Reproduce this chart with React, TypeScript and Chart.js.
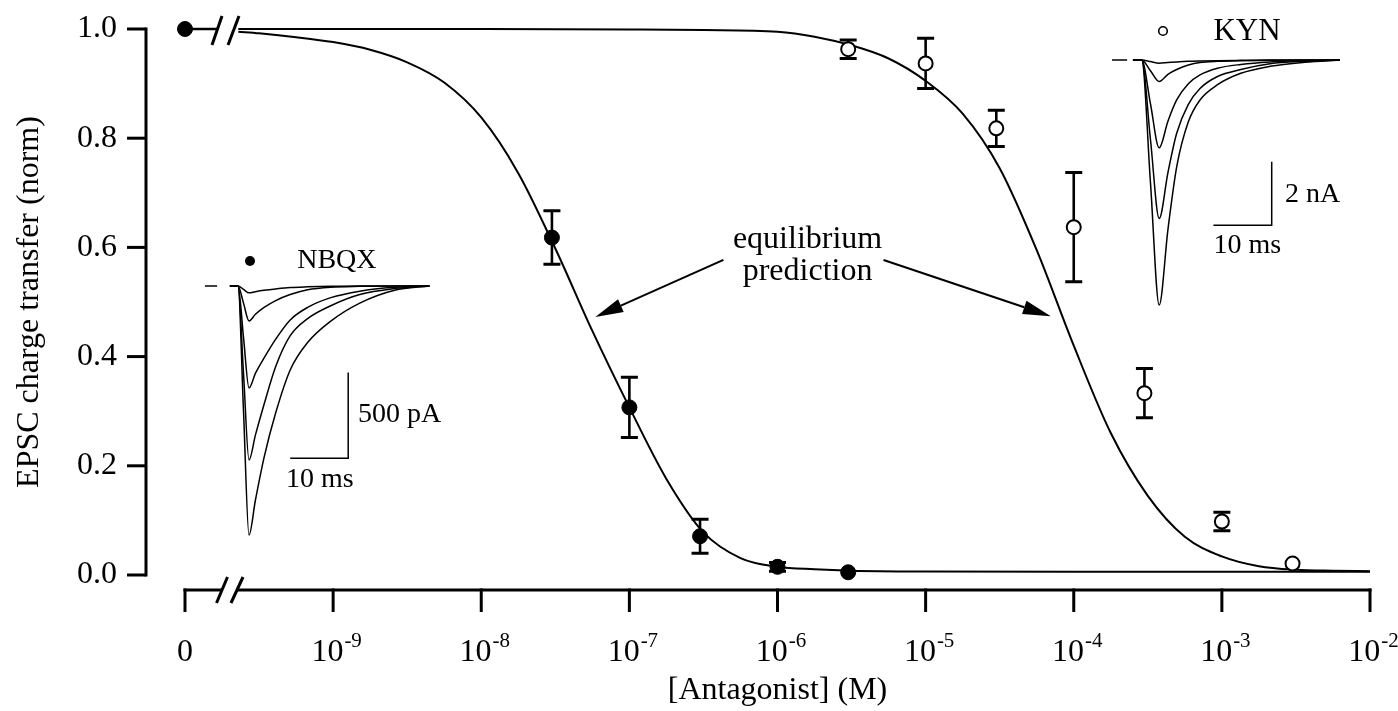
import React, { useEffect, useRef } from "react";
import { Chart, registerables } from "chart.js";

Chart.register(...registerables);

const SERIF = '"Liberation Serif", "Times New Roman", Times, serif';

// ---------- dose-response data (concentration in M, normalised charge transfer) ----------
const controlConc = [1e-10]; // drawn at the "0" position of the broken axis
const controlValue = [1.0];

const nbqxConc = [3e-8, 1e-7, 3e-7, 1e-6, 3e-6];
const nbqxValue = [0.618, 0.307, 0.071, 0.015, 0.005];
const nbqxSem = [0.049, 0.055, 0.031, 0.008, 0];

const kynConc = [3e-6, 1e-5, 3e-5, 1e-4, 3e-4, 1e-3, 3e-3];
const kynValue = [0.963, 0.937, 0.818, 0.637, 0.333, 0.098, 0.021];
const kynSem = [0.017, 0.046, 0.033, 0.1, 0.045, 0.017, 0];

// ---------- equilibrium prediction curves (log10 concentration, value) ----------
const nbqxFitExp = [-9.64, -9.5, -9.25, -9.0, -8.75, -8.5, -8.25, -8.0, -7.75, -7.5, -7.25, -7.0, -6.75, -6.5, -6.25, -6.0, -5.75, -5.5, -5.0, -4.0, -2.0];
const nbqxFitValue = [0.995, 0.992, 0.985, 0.976, 0.962, 0.939, 0.902, 0.838, 0.736, 0.598, 0.447, 0.307, 0.176, 0.078, 0.031, 0.015, 0.0105, 0.008, 0.0065, 0.006, 0.006];
const kynFitExp = [-9.64, -8.0, -7.0, -6.5, -6.0, -5.75, -5.5, -5.25, -5.0, -4.75, -4.5, -4.25, -4.0, -3.75, -3.5, -3.25, -3.0, -2.75, -2.5, -2.25, -2.0];
const kynFitValue = [1.0, 1.0, 0.999, 0.998, 0.995, 0.986, 0.97, 0.946, 0.905, 0.845, 0.745, 0.595, 0.42, 0.26, 0.145, 0.07, 0.034, 0.016, 0.0095, 0.0078, 0.007];

// ---------- axis ticks ----------
const xTickExp = [-10, -9, -8, -7, -6, -5, -4, -3, -2];
const xTickBase = ["0", "10", "10", "10", "10", "10", "10", "10", "10"];
const xTickSup = ["", "-9", "-8", "-7", "-6", "-5", "-4", "-3", "-2"];
const yTicks = [0, 0.2, 0.4, 0.6, 0.8, 1.0];
const yTickLabels = ["0.0", "0.2", "0.4", "0.6", "0.8", "1.0"];

// ---------- inset: NBQX example EPSCs (time ms, current pA) ----------
const nbqxTime = [-1.4, 0, 0.95, 1.9, 3, 4.5, 6.5, 9, 12, 16, 21, 27, 33];
const nbqxTrace1 = [0, 0, -20, -40, -33, -25, -17, -9, -5, -2, 0, 0, 0];
const nbqxTrace2 = [0, 0, -100, -204, -165, -125, -85, -50, -22, -7, -2, 0, 0];
const nbqxTrace3 = [0, 0, -300, -595, -510, -420, -310, -198, -125, -68, -30, -8, 0];
const nbqxTrace4 = [0, 0, -510, -1015, -870, -690, -470, -290, -190, -115, -50, -15, 0];
const nbqxTrace5 = [0, 0, -730, -1453, -1250, -1000, -740, -490, -330, -205, -100, -25, 0];
const nbqxDashTime = [-5.7, -3.6];
const nbqxBarTime = [9, 19, 19];
const nbqxBarCurrent = [-1005, -1005, -505];

// ---------- inset: KYN example EPSCs (time ms, current nA) ----------
const kynTime = [-1.5, 0, 1.5, 3, 4.5, 6, 8, 10, 13, 17, 22, 28, 34];
const kynTrace0 = [0, 0, -0.05, -0.1, -0.08, -0.06, -0.04, -0.03, -0.02, -0.01, 0, 0, 0];
const kynTrace1 = [0, 0, -0.34, -0.68, -0.45, -0.3, -0.16, -0.08, -0.04, -0.02, -0.01, 0, 0];
const kynTrace2 = [0, 0, -1.38, -2.77, -1.93, -1.26, -0.75, -0.47, -0.26, -0.14, -0.06, -0.02, 0];
const kynTrace3 = [0, 0, -2.5, -5.0, -3.55, -2.31, -1.4, -0.9, -0.52, -0.3, -0.12, -0.04, 0];
const kynTrace4 = [0, 0, -3.86, -7.73, -5.35, -3.37, -1.95, -1.26, -0.78, -0.42, -0.2, -0.07, 0];
const kynDashTime = [-5.1, -2.5];
const kynBarTime = [12.3, 22.3, 22.3];
const kynBarCurrent = [-5.21, -5.21, -3.21];

// ---------- layout (pixels) ----------
const W = 1398;
const H = 711;
const AREA = { left: 185, right: 1370, top: 29, bottom: 575 };
const NBQX_INSET = { ox: 238, oy: 286, pxPerMs: 5.8, pxPerUnit: 0.1714 };
const KYN_INSET = { ox: 1141.7, oy: 60, pxPerMs: 5.83, pxPerUnit: 31.7 };

function insetX(o: { ox: number; pxPerMs: number }) {
  return { min: -(o.ox - AREA.left) / o.pxPerMs, max: (AREA.right - o.ox) / o.pxPerMs };
}
function insetY(o: { oy: number; pxPerUnit: number }) {
  return { min: -(AREA.bottom - o.oy) / o.pxPerUnit, max: (o.oy - AREA.top) / o.pxPerUnit };
}

const pts = (xs: number[], ys: number[]) => xs.map((x, i) => ({ x, y: ys[i] }));
const expPts = (es: number[], ys: number[]) => es.map((e, i) => ({ x: Math.pow(10, e), y: ys[i] }));

function drawText(ctx: CanvasRenderingContext2D, text: string, x: number, y: number, size: number, align: CanvasTextAlign = "left", baseline: CanvasTextBaseline = "alphabetic") {
  ctx.font = `${size}px ${SERIF}`;
  ctx.textAlign = align;
  ctx.textBaseline = baseline;
  ctx.fillText(text, x, y);
}

function drawArrow(ctx: CanvasRenderingContext2D, x1: number, y1: number, x2: number, y2: number) {
  const ang = Math.atan2(y2 - y1, x2 - x1);
  const len = 28;
  const half = 7;
  const bx = x2 - len * Math.cos(ang);
  const by = y2 - len * Math.sin(ang);
  ctx.beginPath();
  ctx.moveTo(x1, y1);
  ctx.lineTo(bx, by);
  ctx.lineWidth = 2;
  ctx.stroke();
  ctx.beginPath();
  ctx.moveTo(x2, y2);
  ctx.lineTo(bx + half * Math.sin(ang), by - half * Math.cos(ang));
  ctx.lineTo(bx - half * Math.sin(ang), by + half * Math.cos(ang));
  ctx.closePath();
  ctx.fill();
}

function slash(ctx: CanvasRenderingContext2D, cx: number, cy: number, dx: number, dy: number) {
  ctx.beginPath();
  ctx.moveTo(cx - dx, cy + dy);
  ctx.lineTo(cx + dx, cy - dy);
  ctx.stroke();
}

const figurePlugin = {
  id: "figureDecor",
  beforeDatasetsDraw(chart: any) {
    const ctx: CanvasRenderingContext2D = chart.ctx;
    const xs = chart.scales.x;
    const ys = chart.scales.y;
    ctx.save();
    ctx.strokeStyle = "#000";
    ctx.lineCap = "butt";
    const bars = (conc: number[], val: number[], sem: number[]) => {
      conc.forEach((c, i) => {
        if (!sem[i]) return;
        const px = xs.getPixelForValue(c);
        const t = ys.getPixelForValue(val[i] + sem[i]);
        const b = ys.getPixelForValue(val[i] - sem[i]);
        ctx.lineWidth = 2.6;
        ctx.beginPath();
        ctx.moveTo(px, t);
        ctx.lineTo(px, b);
        ctx.stroke();
        ctx.lineWidth = 3;
        ctx.beginPath();
        ctx.moveTo(px - 8.5, t);
        ctx.lineTo(px + 8.5, t);
        ctx.moveTo(px - 8.5, b);
        ctx.lineTo(px + 8.5, b);
        ctx.stroke();
      });
    };
    bars(nbqxConc, nbqxValue, nbqxSem);
    bars(kynConc, kynValue, kynSem);

    // short segment from the control point to the axis break
    const x0 = xs.getPixelForValue(controlConc[0]);
    const y1 = ys.getPixelForValue(controlValue[0]);
    ctx.lineWidth = 2.5;
    ctx.beginPath();
    ctx.moveTo(x0, y1);
    ctx.lineTo(x0 + 32, y1);
    ctx.stroke();
    ctx.lineWidth = 3;
    slash(ctx, x0 + 32, y1 + 1.5, 5, 14.5);
    slash(ctx, x0 + 48.5, y1 + 1.5, 5.5, 14.5);
    ctx.restore();
  },
  afterDraw(chart: any) {
    const ctx: CanvasRenderingContext2D = chart.ctx;
    const xs = chart.scales.x;
    const ys = chart.scales.y;
    ctx.save();
    ctx.strokeStyle = "#000";
    ctx.fillStyle = "#000";
    ctx.lineCap = "butt";

    // ----- y axis (offset to the left) -----
    const yAxisX = xs.left - 39;
    const yTop = ys.getPixelForValue(1);
    const yBot = ys.getPixelForValue(0);
    ctx.lineWidth = 3;
    ctx.beginPath();
    ctx.moveTo(yAxisX, yTop - 1.5);
    ctx.lineTo(yAxisX, yBot + 1.5);
    ctx.stroke();
    yTicks.forEach((v, i) => {
      const py = ys.getPixelForValue(v);
      ctx.beginPath();
      ctx.moveTo(yAxisX - 19, py);
      ctx.lineTo(yAxisX, py);
      ctx.stroke();
      drawText(ctx, yTickLabels[i], yAxisX - 29, py, 32, "right", "middle");
    });

    // ----- x axis (offset below, with break) -----
    const xAxisY = ys.bottom + 15;
    const x0 = xs.getPixelForValue(Math.pow(10, xTickExp[0]));
    ctx.lineWidth = 3;
    ctx.beginPath();
    ctx.moveTo(x0 - 1.5, xAxisY);
    ctx.lineTo(x0 + 37, xAxisY);
    ctx.moveTo(x0 + 52, xAxisY);
    ctx.lineTo(xs.right + 1.5, xAxisY);
    ctx.stroke();
    slash(ctx, x0 + 37, xAxisY, 5.5, 13);
    slash(ctx, x0 + 52, xAxisY, 6, 13);
    xTickExp.forEach((e, i) => {
      const px = xs.getPixelForValue(Math.pow(10, e));
      ctx.beginPath();
      ctx.moveTo(px, xAxisY - 1.5);
      ctx.lineTo(px, xAxisY + 22);
      ctx.stroke();
      const baseY = 661;
      if (!xTickSup[i]) {
        drawText(ctx, xTickBase[i], px, baseY, 32, "center");
      } else {
        ctx.font = `32px ${SERIF}`;
        const wb = ctx.measureText(xTickBase[i]).width;
        ctx.font = `21px ${SERIF}`;
        const ws = ctx.measureText(xTickSup[i]).width;
        const start = px - (wb + ws) / 2 + 3;
        drawText(ctx, xTickBase[i], start, baseY, 32, "left");
        drawText(ctx, xTickSup[i], start + wb + 1, baseY - 14, 21, "left");
      }
    });

    // ----- axis titles -----
    drawText(ctx, "[Antagonist] (M)", xs.getPixelForValue(1e-6), 699, 32, "center");
    ctx.save();
    ctx.translate(30, 302);
    ctx.rotate(-Math.PI / 2);
    drawText(ctx, "EPSC charge transfer (norm)", 0, 0, 32, "center", "middle");
    ctx.restore();

    // ----- "equilibrium prediction" annotation -----
    const tx = xs.getPixelForValue(Math.pow(10, -5.797));
    drawText(ctx, "equilibrium", tx, ys.getPixelForValue(0.599), 32, "center");
    drawText(ctx, "prediction", tx, ys.getPixelForValue(0.54), 32, "center");
    drawArrow(ctx, xs.getPixelForValue(Math.pow(10, -6.365)), ys.getPixelForValue(0.577), xs.getPixelForValue(Math.pow(10, -7.23)), ys.getPixelForValue(0.4725));
    drawArrow(ctx, xs.getPixelForValue(Math.pow(10, -5.284)), ys.getPixelForValue(0.577), xs.getPixelForValue(Math.pow(10, -4.155)), ys.getPixelForValue(0.474));

    // ----- NBQX inset labels -----
    const xn = chart.scales.xn;
    const yn = chart.scales.yn;
    ctx.beginPath();
    ctx.arc(xn.getPixelForValue(2.07), yn.getPixelForValue(146), 5, 0, Math.PI * 2);
    ctx.fill();
    drawText(ctx, "NBQX", xn.getPixelForValue(10.2), yn.getPixelForValue(105), 28);
    drawText(ctx, "500 pA", xn.getPixelForValue(20.7), yn.getPixelForValue(-793), 28);
    drawText(ctx, "10 ms", xn.getPixelForValue(14.1), yn.getPixelForValue(-1173), 28, "center");

    // ----- KYN inset labels -----
    const xk = chart.scales.xk;
    const yk = chart.scales.yk;
    ctx.lineWidth = 1.6;
    ctx.beginPath();
    ctx.arc(xk.getPixelForValue(3.65), yk.getPixelForValue(0.915), 4.3, 0, Math.PI * 2);
    ctx.stroke();
    drawText(ctx, "KYN", xk.getPixelForValue(12.3), yk.getPixelForValue(0.63), 31);
    drawText(ctx, "2 nA", xk.getPixelForValue(24.6), yk.getPixelForValue(-4.47), 28);
    drawText(ctx, "10 ms", xk.getPixelForValue(12.3), yk.getPixelForValue(-6.09), 28);

    ctx.restore();
  },
};

function traceDataset(time: number[], values: number[], xAxisID: string, yAxisID: string, width = 1.5, smooth = true) {
  return {
    type: "line" as const,
    data: pts(time, values),
    xAxisID,
    yAxisID,
    borderColor: "#000",
    borderWidth: width,
    pointRadius: 0,
    fill: false,
    clip: false,
    cubicInterpolationMode: smooth ? ("monotone" as const) : ("default" as const),
    tension: 0,
    order: 5,
  };
}

export default function App() {
  const ref = useRef<HTMLCanvasElement>(null);

  useEffect(() => {
    const canvas = ref.current;
    if (!canvas) return;
    const nx = insetX(NBQX_INSET);
    const ny = insetY(NBQX_INSET);
    const kx = insetX(KYN_INSET);
    const ky = insetY(KYN_INSET);

    const chart = new Chart(canvas, {
      type: "line",
      data: {
        datasets: [
          {
            type: "line",
            data: pts(controlConc, controlValue),
            xAxisID: "x",
            yAxisID: "y",
            showLine: false,
            pointRadius: 7.5,
            pointBackgroundColor: "#000",
            pointBorderColor: "#000",
            pointBorderWidth: 1,
            clip: false,
            order: 0,
          },
          {
            type: "line",
            data: pts(nbqxConc, nbqxValue),
            xAxisID: "x",
            yAxisID: "y",
            showLine: false,
            pointRadius: 7.5,
            pointBackgroundColor: "#000",
            pointBorderColor: "#000",
            pointBorderWidth: 1,
            clip: false,
            order: 0,
          },
          {
            type: "line",
            data: pts(kynConc, kynValue),
            xAxisID: "x",
            yAxisID: "y",
            showLine: false,
            pointRadius: 7,
            pointBackgroundColor: "#fff",
            pointBorderColor: "#000",
            pointBorderWidth: 2,
            clip: false,
            order: 0,
          },
          {
            type: "line",
            data: expPts(nbqxFitExp, nbqxFitValue),
            xAxisID: "x",
            yAxisID: "y",
            borderColor: "#000",
            borderWidth: 2,
            pointRadius: 0,
            cubicInterpolationMode: "monotone",
            clip: false,
            order: 3,
          },
          {
            type: "line",
            data: expPts(kynFitExp, kynFitValue),
            xAxisID: "x",
            yAxisID: "y",
            borderColor: "#000",
            borderWidth: 2,
            pointRadius: 0,
            cubicInterpolationMode: "monotone",
            clip: false,
            order: 3,
          },
          traceDataset(nbqxTime, nbqxTrace1, "xn", "yn"),
          traceDataset(nbqxTime, nbqxTrace2, "xn", "yn"),
          traceDataset(nbqxTime, nbqxTrace3, "xn", "yn"),
          traceDataset(nbqxTime, nbqxTrace4, "xn", "yn"),
          traceDataset(nbqxTime, nbqxTrace5, "xn", "yn"),
          traceDataset(nbqxDashTime, [0, 0], "xn", "yn", 1.5, false),
          traceDataset(nbqxBarTime, nbqxBarCurrent, "xn", "yn", 1.5, false),
          traceDataset(kynTime, kynTrace0, "xk", "yk"),
          traceDataset(kynTime, kynTrace1, "xk", "yk"),
          traceDataset(kynTime, kynTrace2, "xk", "yk"),
          traceDataset(kynTime, kynTrace3, "xk", "yk"),
          traceDataset(kynTime, kynTrace4, "xk", "yk"),
          traceDataset(kynDashTime, [0, 0], "xk", "yk", 1.5, false),
          traceDataset(kynBarTime, kynBarCurrent, "xk", "yk", 1.5, false),
        ] as any,
      },
      options: {
        responsive: false,
        maintainAspectRatio: false,
        animation: false,
        devicePixelRatio: 1,
        layout: {
          padding: { left: AREA.left, right: W - AREA.right, top: AREA.top, bottom: H - AREA.bottom },
        },
        scales: {
          x: { type: "logarithmic", min: 1e-10, max: 1e-2, display: false },
          y: { type: "linear", min: 0, max: 1, display: false },
          xn: { type: "linear", axis: "x", min: nx.min, max: nx.max, display: false },
          yn: { type: "linear", axis: "y", min: ny.min, max: ny.max, display: false },
          xk: { type: "linear", axis: "x", min: kx.min, max: kx.max, display: false },
          yk: { type: "linear", axis: "y", min: ky.min, max: ky.max, display: false },
        } as any,
        plugins: {
          legend: { display: false },
          tooltip: { enabled: false },
          title: { display: false },
        },
        events: [],
      },
      plugins: [figurePlugin as any],
    });
    return () => chart.destroy();
  }, []);

  return (
    <div style={{ position: "fixed", left: 0, top: 0, width: W, height: H, background: "#fff" }}>
      <canvas ref={ref} width={W} height={H} style={{ display: "block", width: W, height: H }} />
    </div>
  );
}
